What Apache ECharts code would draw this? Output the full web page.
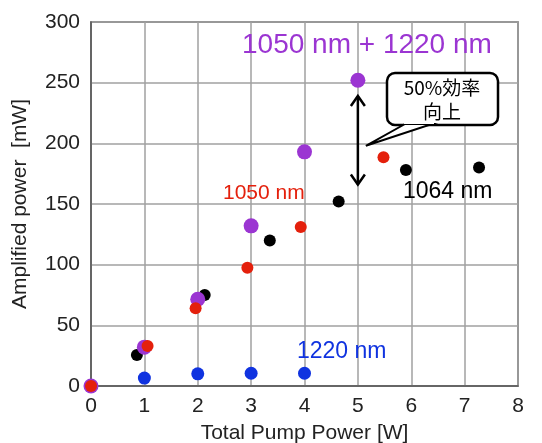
<!DOCTYPE html>
<html>
<head>
<meta charset="utf-8">
<script src="https://cdn.jsdelivr.net/npm/echarts@6/dist/echarts.min.js"></script>
<style>
  html, body { margin: 0; padding: 0; background: #fff; }
  #main { width: 542px; height: 443px; }
</style>
</head>
<body>
<div id="main"></div>
<script>
  // 測定値 (x: W, y: mW)
  var p1064 = [[0, 0], [0.86, 25.5], [2.13, 75], [3.35, 120], [4.64, 152], [5.9, 178], [7.27, 180]];
  var p1220 = [[0, 0], [1, 6.5], [2, 10], [3, 10.5], [4, 10.5]];
  var pBoth = [[0, 0], [1, 32], [2, 71.5], [3, 132], [4, 193], [5, 252]];
  var p1050 = [[0, 0], [1.06, 33], [1.96, 64], [2.93, 97.5], [3.93, 131], [5.48, 188.5]];
  var xTicks = [0, 1, 2, 3, 4, 5, 6, 7, 8];
  var yTicks = [0, 50, 100, 150, 200, 250, 300];

  var font = "'Liberation Sans', Arial, sans-serif";
  var jp = "'Noto Sans CJK JP', sans-serif";
  var myChart = echarts.init(document.getElementById('main'));

  function dots(name, data, color, size) {
    return {
      name: name,
      type: 'scatter',
      data: data,
      symbolSize: size,
      itemStyle: {color: color, opacity: 1},
      silent: true
    };
  }

  myChart.setOption({
    animation: false,
    grid: {
      left: 91, right: 24, top: 22, bottom: 57,
      outerBoundsMode: 'none',
      show: true, borderColor: '#555', borderWidth: 1.5
    },
    xAxis: {
      type: 'value',
      min: xTicks[0], max: xTicks[xTicks.length - 1], interval: 1,
      name: 'Total Pump Power [W]',
      nameLocation: 'middle', nameGap: 37,
      nameTextStyle: {fontFamily: font, fontSize: 21, color: '#222'},
      axisLine: {lineStyle: {color: '#555', width: 1.5}},
      axisTick: {show: false},
      axisLabel: {fontFamily: font, fontSize: 21, color: '#222', margin: 10},
      splitLine: {lineStyle: {color: '#a0a0a0', width: 1.5}}
    },
    yAxis: {
      type: 'value',
      min: yTicks[0], max: yTicks[yTicks.length - 1], interval: 50,
      name: 'Amplified power  [mW]',
      nameLocation: 'middle', nameGap: 60,
      nameTextStyle: {fontFamily: font, fontSize: 21, color: '#222'},
      axisLine: {lineStyle: {color: '#555', width: 1.5}},
      axisTick: {show: false},
      axisLabel: {fontFamily: font, fontSize: 21, color: '#222', margin: 11},
      splitLine: {lineStyle: {color: '#a0a0a0', width: 1.5}}
    },
    series: [
      dots('1064 nm', p1064, '#000', 12),
      dots('1220 nm', p1220, '#1033e0', 13),
      dots('1050 nm + 1220 nm', pBoth, '#9b35d2', 15),
      dots('1050 nm', p1050, '#e4200c', 12)
    ]
  });

  // 注記（矢印・吹き出し・ラベル）
  var aTop = myChart.convertToPixel({gridIndex: 0}, [5, 239]);
  var aBot = myChart.convertToPixel({gridIndex: 0}, [5, 166]);
  var tip = myChart.convertToPixel({gridIndex: 0}, [5.15, 198]);
  var ax = aTop[0];

  myChart.setOption({
    graphic: [
      {type: 'line', shape: {x1: ax, y1: aTop[1], x2: ax, y2: aBot[1]}, style: {stroke: '#000', lineWidth: 2.5}},
      {type: 'polyline', shape: {points: [[ax - 7, aTop[1] + 10], [ax, aTop[1]], [ax + 7, aTop[1] + 10]]}, style: {stroke: '#000', lineWidth: 2.5, fill: null}},
      {type: 'polyline', shape: {points: [[ax - 7, aBot[1] - 10], [ax, aBot[1]], [ax + 7, aBot[1] - 10]]}, style: {stroke: '#000', lineWidth: 2.5, fill: null}},
      {type: 'rect', shape: {x: 387, y: 73, width: 111, height: 52, r: 8}, style: {fill: '#fff', stroke: '#000', lineWidth: 2.5}},
      {type: 'polygon', shape: {points: [[405, 124], [tip[0], tip[1]], [432, 124]]}, style: {fill: '#fff', stroke: '#000', lineWidth: 2}},
      {type: 'rect', shape: {x: 404, y: 118, width: 30, height: 6}, style: {fill: '#fff'}},
      {type: 'text', x: 442, y: 88, style: {text: '50%効率', fontFamily: jp, fontSize: 19, fill: '#000', align: 'center', verticalAlign: 'middle'}},
      {type: 'text', x: 442, y: 112, style: {text: '向上', fontFamily: jp, fontSize: 19, fill: '#000', align: 'center', verticalAlign: 'middle'}},
      {type: 'text', x: 242, y: 45, style: {text: '1050 nm + 1220 nm', fontFamily: font, fontSize: 28, fill: '#9b35d2', verticalAlign: 'middle'}},
      {type: 'text', x: 223, y: 193, style: {text: '1050 nm', fontFamily: font, fontSize: 21, fill: '#e4200c', verticalAlign: 'middle'}},
      {type: 'text', x: 403, y: 192, style: {text: '1064 nm', fontFamily: font, fontSize: 23, fill: '#000', verticalAlign: 'middle'}},
      {type: 'text', x: 297, y: 352, style: {text: '1220 nm', fontFamily: font, fontSize: 23, fill: '#1033e0', verticalAlign: 'middle'}}
    ]
  });
</script>
</body>
</html>
